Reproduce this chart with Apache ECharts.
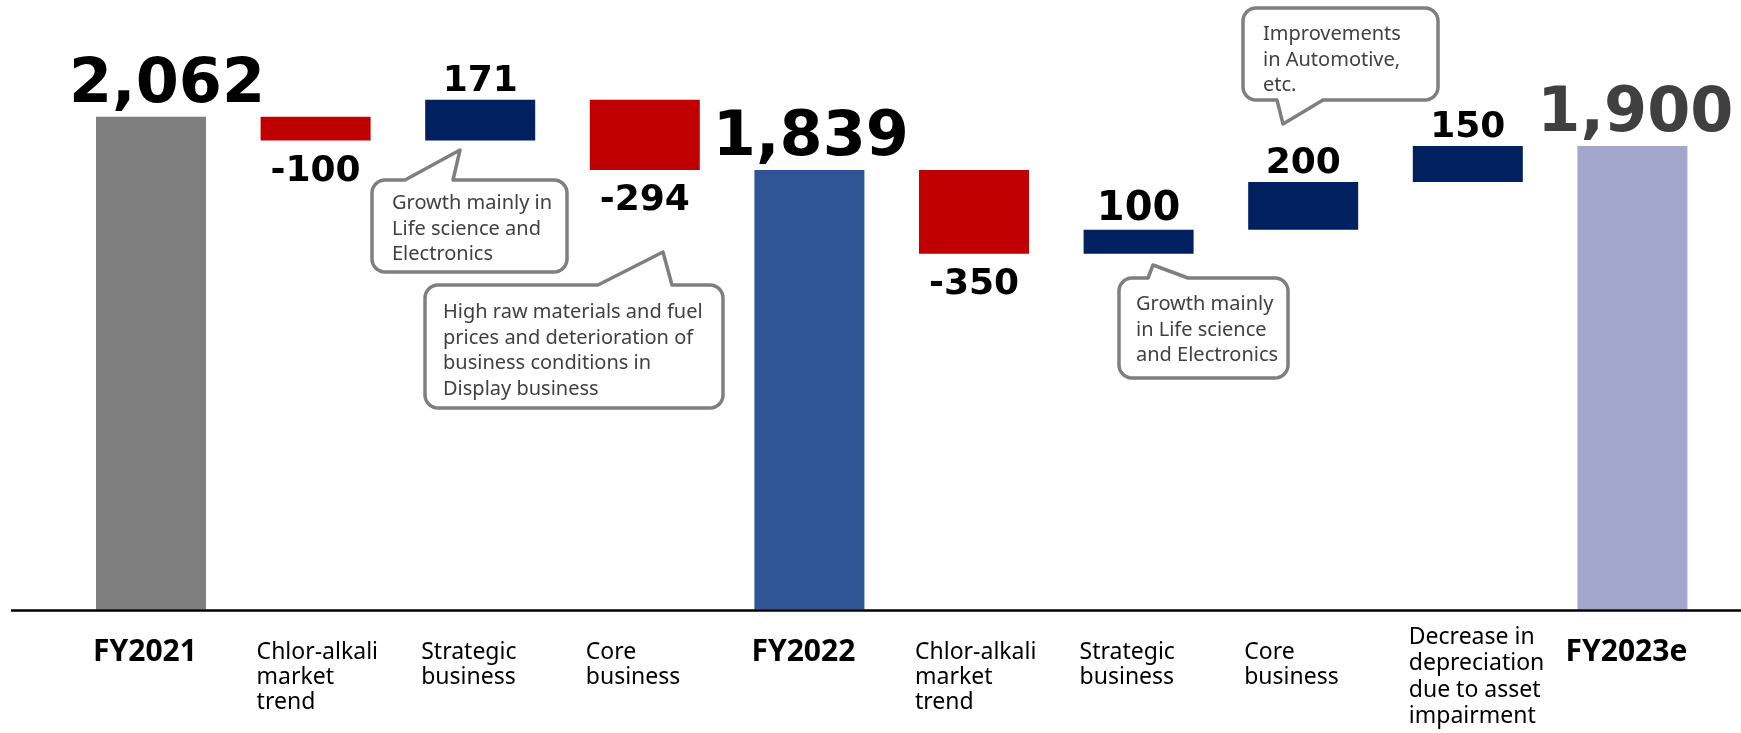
<!DOCTYPE html>
<html>
<head>
<meta charset="utf-8">
<title>Operating income bridge</title>
<script src="https://cdn.jsdelivr.net/npm/echarts@6.0.0/dist/echarts.min.js"></script>
<style>
  html, body { margin: 0; padding: 0; background: #fff; }
  #chart { width: 1741px; height: 733px; }
</style>
</head>
<body>
<div id="chart"></div>
<script>
// waterfall data
var categories = ['FY2021', 'Chlor-alkali\nmarket\ntrend', 'Strategic\nbusiness', 'Core\nbusiness', 'FY2022',
  'Chlor-alkali\nmarket\ntrend', 'Strategic\nbusiness', 'Core\nbusiness',
  'Decrease in\ndepreciation\ndue to asset\nimpairment', 'FY2023e'];
var kinds = ['total', 'step', 'step', 'step', 'total', 'step', 'step', 'step', 'step', 'total'];
var amounts = [2062, -100, 171, -294, 1839, -350, 100, 200, 150, 1939];
var amountLabels = ['2,062', '-100', '171', '-294', '1,839', '-350', '100', '200', '150', '1,900'];

var notes = [
  'Growth mainly in\nLife science and\nElectronics',
  'High raw materials and fuel\nprices and deterioration of\nbusiness conditions in\nDisplay business',
  'Growth mainly\nin Life science\nand Electronics',
  'Improvements\nin Automotive,\netc.'
];

var totalColors = ['#7f7f7f', '#2f5597', '#a3a7cb'];
var totalShift = [16, 1.5, 3];

var baseData = [];
var barData = [];
var level = 0;
var t = 0;
for (var i = 0; i < amounts.length; i++) {
  var labelColor = '#000';
  if (kinds[i] === 'total') {
    baseData.push(0);
    level = amounts[i];
    if (t === 2) labelColor = '#404040';
    barData.push({
      value: amounts[i],
      itemStyle: { color: totalColors[t] },
      label: {
        position: 'top', distance: 0, offset: [totalShift[t], 0],
        fontSize: 62, color: labelColor, formatter: amountLabels[i]
      }
    });
    t++;
  } else {
    var next = level + amounts[i];
    baseData.push(Math.min(level, next));
    level = next;
    var up = amounts[i] > 0;
    barData.push({
      value: Math.abs(amounts[i]),
      itemStyle: { color: up ? '#002060' : '#c00000' },
      label: {
        position: up ? 'top' : 'bottom', distance: up ? 0 : 13,
        fontSize: (i === 6) ? 40 : 36, color: labelColor, formatter: amountLabels[i]
      }
    });
  }
}

// speech bubble outline as a polygon
function corner(pts, cx, cy, r, a0) {
  for (var k = 0; k <= 8; k++) {
    var a = (a0 + k * 90 / 8) * Math.PI / 180;
    pts.push([cx + r * Math.cos(a), cy + r * Math.sin(a)]);
  }
}
function bubble(x, y, w, h, r, tail) {
  var pts = [];
  corner(pts, x + r, y + r, r, 180);
  if (tail.side === 'top') {
    pts.push([tail.b1, y], [tail.tx, tail.ty], [tail.b2, y]);
  }
  corner(pts, x + w - r, y + r, r, 270);
  corner(pts, x + w - r, y + h - r, r, 0);
  if (tail.side === 'bottom') {
    pts.push([tail.b2, y + h], [tail.tx, tail.ty], [tail.b1, y + h]);
  }
  corner(pts, x + r, y + h - r, r, 90);
  return {
    type: 'polygon',
    z: 100,
    shape: { points: pts },
    style: { fill: '#fff', stroke: '#7f7f7f', lineWidth: 3.5, lineJoin: 'round' }
  };
}
function noteText(txt, x, y) {
  return {
    type: 'text',
    z: 101,
    x: x,
    y: y,
    style: {
      text: txt,
      font: '20px "Noto Sans"', fill: '#404040',
      lineHeight: 25.5, verticalAlign: 'top', align: 'left'
    }
  };
}

var graphics = [
  { type: 'line', z: 50, shape: { x1: 11, y1: 610.5, x2: 1741, y2: 610.5 }, style: { stroke: '#000', lineWidth: 2.5 } },
  bubble(372, 180, 195, 92, 13, { side: 'top', b1: 405, b2: 453, tx: 460, ty: 150 }),
  noteText(notes[0], 392, 191),
  bubble(425, 285, 298, 123, 13, { side: 'top', b1: 598, b2: 672, tx: 663, ty: 252 }),
  noteText(notes[1], 443, 300),
  bubble(1119, 278, 169, 100, 13, { side: 'top', b1: 1148, b2: 1188, tx: 1153, ty: 265 }),
  noteText(notes[2], 1136, 292),
  bubble(1243, 8, 195, 92, 13, { side: 'bottom', b1: 1277, b2: 1323, tx: 1283, ty: 124 }),
  noteText(notes[3], 1263, 22)
];

var chart = echarts.init(document.getElementById('chart'));
var option = {
  backgroundColor: '#fff',
  animation: false,
  grid: { left: 68.7, right: 26.3, top: 12, bottom: 123.5, outerBoundsMode: 'none' },
  xAxis: {
    type: 'category',
    data: categories,
    axisLine: { show: false },
    axisTick: { show: false },
    axisLabel: {
      interval: 0,
      margin: 14.5,
      hideOverlap: false,
      formatter: function (v, idx) {
        var lines = v.split('\n');
        if (kinds[idx] === 'total') return '{sp| }\n{b|' + v + '}';
        // the four-line label sits higher and looser, like in the slide
        if (lines.length > 3) {
          return lines.map(function (s) { return '{m|' + s + '}'; }).join('\n');
        }
        return '{sp| }\n' + lines.map(function (s) { return '{n|' + s + '}'; }).join('\n');
      },
      rich: {
        sp: { fontSize: 2, lineHeight: 15.5, width: 118 },
        b: { fontFamily: 'Noto Sans', fontWeight: 'bold', fontSize: 30, lineHeight: 25, width: 118, align: 'center', padding: [0, 12, 0, 0], color: '#000' },
        n: { fontFamily: 'Noto Sans', fontSize: 23, lineHeight: 25, width: 118, align: 'left', color: '#000' },
        m: { fontFamily: 'Noto Sans', fontSize: 23, lineHeight: 26.5, width: 118, align: 'left', color: '#000' }
      }
    }
  },
  yAxis: {
    type: 'value',
    min: 0,
    max: 2500,
    show: false,
    splitLine: { show: false }
  },
  series: [{
    name: 'base',
    type: 'bar',
    stack: 'w',
    silent: true,
    barWidth: 110,
    itemStyle: { color: 'transparent' },
    data: baseData
  }, {
    name: 'amount',
    type: 'bar',
    stack: 'w',
    barWidth: 110,
    label: {
      show: true,
      fontFamily: 'DejaVu Sans',
      fontWeight: 'bold'
    },
    data: barData
  }],
  graphic: graphics
};
chart.setOption(option);
</script>
</body>
</html>
